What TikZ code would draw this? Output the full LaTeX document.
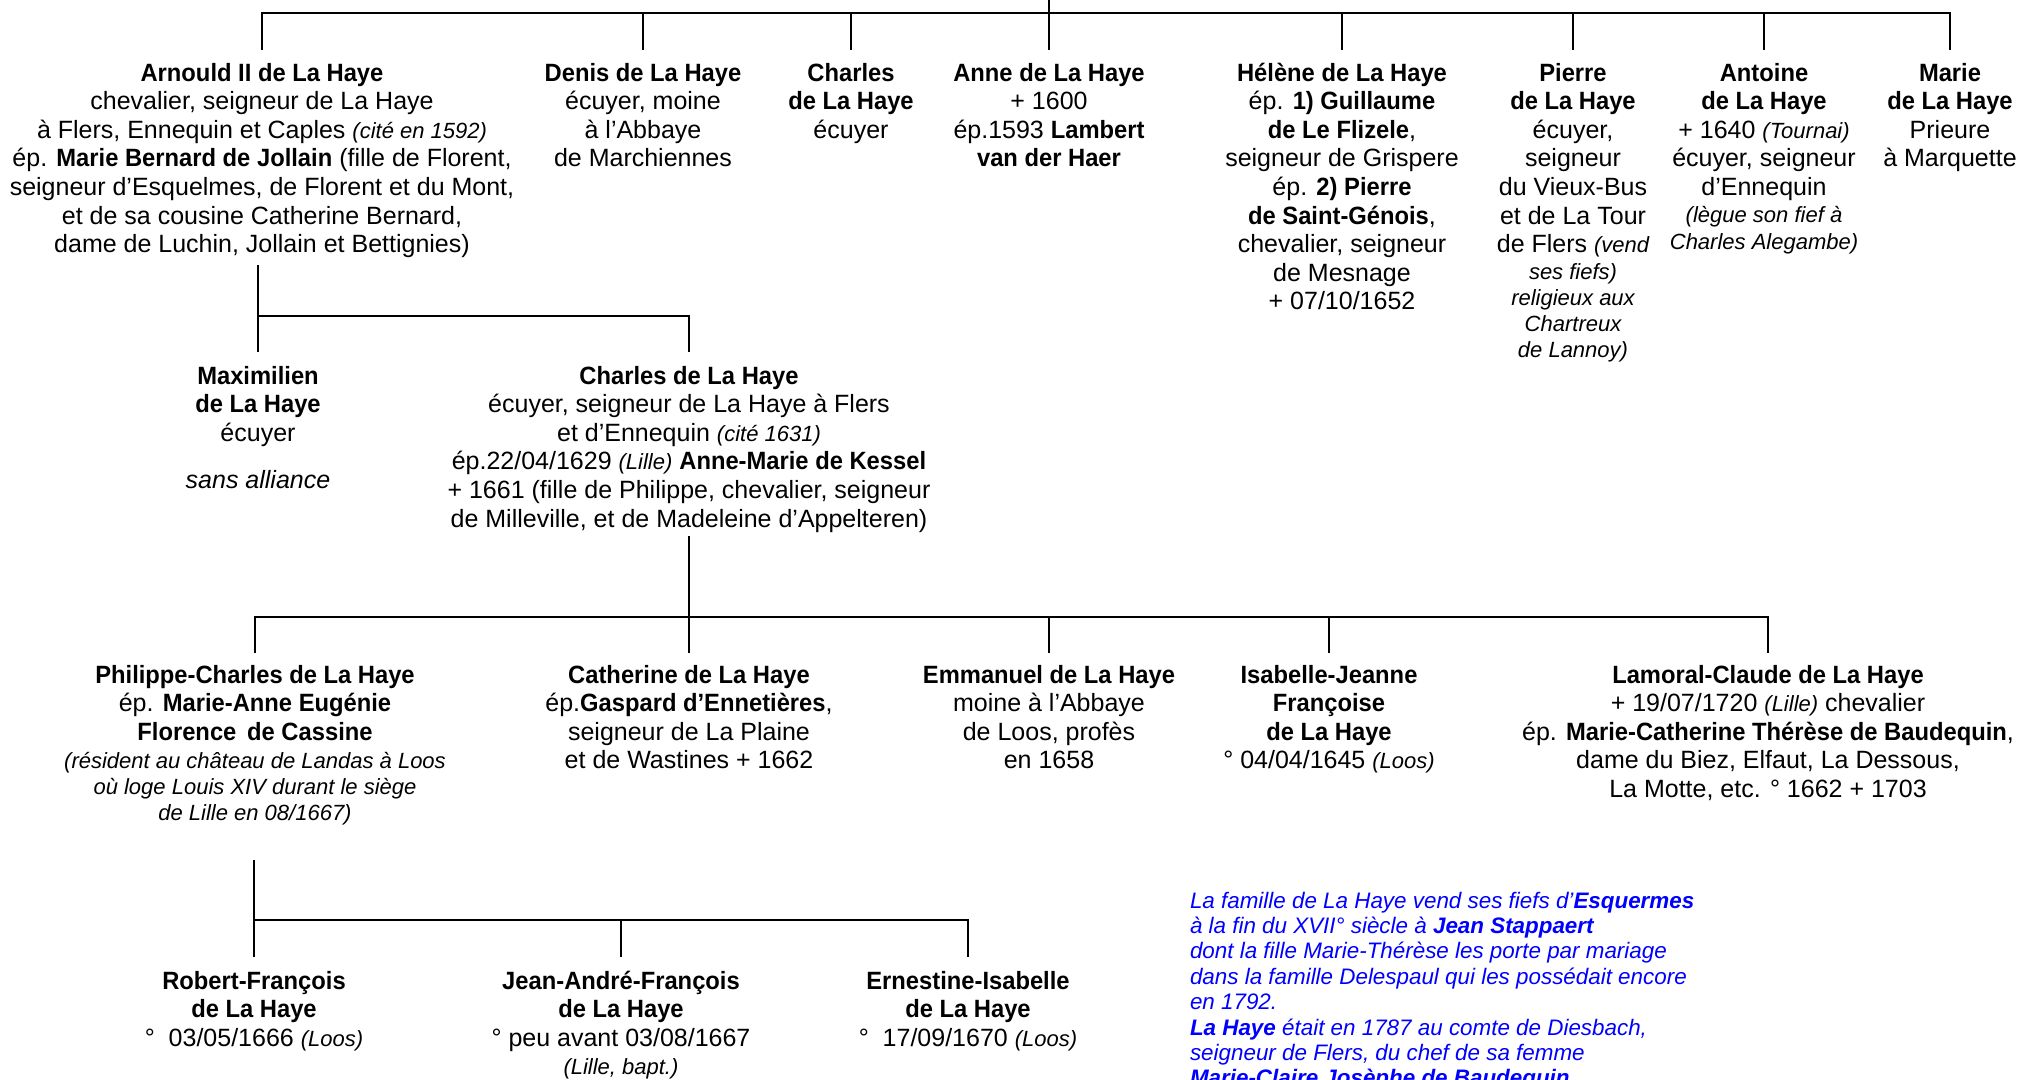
\documentclass[tikz,border=0pt]{standalone}
\usepackage{fontspec}
\setmainfont{Liberation Sans}[BoldFeatures={FakeStretch=0.95}]
\definecolor{noteblue}{RGB}{0,0,255}
\newcommand\firstln{\rule{0pt}{21.5pt}}
\newcommand\notefirst{\rule{0pt}{19pt}}
\newcommand\smit[1]{{\fontsize{22}{26}\selectfont\itshape #1}}
\begin{document}
\begin{tikzpicture}[x=1pt,y=-1pt,line width=2pt,
  person/.style={anchor=north,align=center,inner sep=0pt,outer sep=0pt,
    font=\fontsize{25}{28.6}\selectfont},
  note/.style={anchor=north west,align=left,inner sep=0pt,outer sep=0pt,
    text=noteblue,font=\fontsize{22.4}{25.4}\selectfont\itshape}]
\useasboundingbox (0,0) rectangle (2018,1079);
\clip (0,0) rectangle (2018,1079);

% ---------- generation 1 ----------
\node[person] (a1) at (262,59.5) {\firstln\textbf{Arnould II de La Haye}\\
  chevalier, seigneur de La Haye\\
  à Flers, Ennequin et Caples \smit{(cité en 1592)}\\
  ép. \textbf{Marie Bernard de Jollain} (fille de Florent,\\
  seigneur d’Esquelmes, de Florent et du Mont,\\
  et de sa cousine Catherine Bernard,\\
  dame de Luchin, Jollain et Bettignies)};
\node[person] (a2) at (643,59.5) {\firstln\textbf{Denis de La Haye}\\
  écuyer, moine\\ à l’Abbaye\\ de Marchiennes};
\node[person] (a3) at (851,59.5) {\firstln\textbf{Charles}\\ \textbf{de La Haye}\\ écuyer};
\node[person] (a4) at (1049,59.5) {\firstln\textbf{Anne de La Haye}\\ + 1600\\
  ép.1593 \textbf{Lambert}\\ \textbf{van der Haer}};
\node[person] (a5) at (1342,59.5) {\firstln\textbf{Hélène de La Haye}\\
  ép. \textbf{1) Guillaume}\\ \textbf{de Le Flizele},\\ seigneur de Grispere\\
  ép. \textbf{2) Pierre}\\ \textbf{de Saint-Génois},\\ chevalier, seigneur\\
  de Mesnage\\ + 07/10/1652};
\node[person] (a6) at (1573,59.5) {\firstln\textbf{Pierre}\\ \textbf{de La Haye}\\
  écuyer,\\ seigneur\\ du Vieux-Bus\\ et de La Tour\\ de Flers \smit{(vend}\\[-2pt]
  \smit{ses fiefs)}\\[-2.6pt] \smit{religieux aux}\\[-2.6pt] \smit{Chartreux}\\[-2.6pt]
  \smit{de Lannoy)}};
\node[person] (a7) at (1764,59.5) {\firstln\textbf{Antoine}\\ \textbf{de La Haye}\\
  + 1640 \smit{(Tournai)}\\ écuyer, seigneur\\ d’Ennequin\\[-1.6pt]
  \smit{(lègue son fief à}\\[-1.6pt] \smit{Charles Alegambe)}};
\node[person] (a8) at (1950,59.5) {\firstln\textbf{Marie}\\ \textbf{de La Haye}\\
  Prieure\\ à Marquette};

\coordinate (root) at (1049,-5);
\coordinate (bar1) at (0,13);
\draw (root) -- (root |- bar1);
\draw ([yshift=10pt]a1.north) -- (a1.north |- bar1) -- (a8.north |- bar1)
  -- ([yshift=10pt]a8.north);
\foreach \n in {a2,a3,a4,a5,a6,a7}
  \draw (\n.north |- bar1) -- ([yshift=10pt]\n.north);

% ---------- generation 2 ----------
\node[person] (b1) at (258,362.5) {\firstln\textbf{Maximilien}\\ \textbf{de La Haye}\\
  écuyer\\[18.4pt] \textit{sans alliance}};
\node[person] (b2) at (689,362.5) {\firstln\textbf{Charles de La Haye}\\
  écuyer, seigneur de La Haye à Flers\\
  et d’Ennequin \smit{(cité 1631)}\\
  ép.22/04/1629 \smit{(Lille)} \textbf{Anne-Marie de Kessel}\\
  + 1661 (fille de Philippe, chevalier, seigneur\\
  de Milleville, et de Madeleine d’Appelteren)};

\coordinate (bar2) at (0,316);
\draw (a1.south -| b1.north) ++(0,7.7) -- (b1.north |- bar2);
\draw ([yshift=10.5pt]b1.north) -- (b1.north |- bar2) -- (b2.north |- bar2)
  -- ([yshift=10.5pt]b2.north);

% ---------- generation 3 ----------
\node[person] (c1) at (255,661.5) {\firstln\textbf{Philippe-Charles de La Haye}\\
  ép. \textbf{Marie-Anne Eugénie}\\ \textbf{Florence\, de Cassine}\\
  \smit{(résident au château de Landas à Loos}\\[-2.6pt]
  \smit{où loge Louis XIV durant le siège}\\[-2.6pt]
  \smit{de Lille en 08/1667)}};
\node[person] (c2) at (689,661.5) {\firstln\textbf{Catherine de La Haye}\\
  ép.\textbf{Gaspard d’Ennetières},\\ seigneur de La Plaine\\ et de Wastines + 1662};
\node[person] (c3) at (1049,661.5) {\firstln\textbf{Emmanuel de La Haye}\\
  moine à l’Abbaye\\ de Loos, profès\\ en 1658};
\node[person] (c4) at (1329,661.5) {\firstln\textbf{Isabelle-Jeanne}\\
  \textbf{Françoise}\\ \textbf{de La Haye}\\ ° 04/04/1645 \smit{(Loos)}};
\node[person] (c5) at (1768,661.5) {\firstln\textbf{Lamoral-Claude de La Haye}\\
  + 19/07/1720 \smit{(Lille)} chevalier\\
  ép. \textbf{Marie-Catherine Thérèse de Baudequin},\\
  dame du Biez, Elfaut, La Dessous,\\ La Motte, etc. ° 1662 + 1703};

\coordinate (bar3) at (0,617);
\draw (b2.south) ++(0,4) -- ([yshift=8.5pt]c2.north);
\draw ([yshift=8.5pt]c1.north) -- (c1.north |- bar3) -- (c5.north |- bar3)
  -- ([yshift=8.5pt]c5.north);
\foreach \n in {c3,c4}
  \draw (\n.north |- bar3) -- ([yshift=8.5pt]\n.north);

% ---------- generation 4 ----------
\node[person] (d1) at (254,967.5) {\firstln\textbf{Robert-François}\\
  \textbf{de La Haye}\\ °\ \ 03/05/1666 \smit{(Loos)}};
\node[person] (d2) at (621,967.5) {\firstln\textbf{Jean-André-François}\\
  \textbf{de La Haye}\\ ° peu avant 03/08/1667\\ \smit{(Lille, bapt.)}};
\node[person] (d3) at (968,967.5) {\firstln\textbf{Ernestine-Isabelle}\\
  \textbf{de La Haye}\\ °\ \ 17/09/1670 \smit{(Loos)}};

\coordinate (bar4) at (0,920);
\draw (c1.south -| d1.north) ++(0,35) -- (d1.north |- bar4);
\draw ([yshift=10.5pt]d1.north) -- (d1.north |- bar4) -- (d3.north |- bar4)
  -- ([yshift=10.5pt]d3.north);
\draw (d2.north |- bar4) -- ([yshift=10.5pt]d2.north);

% ---------- note ----------
\node[note] (note) at (1190,889) {\notefirst La famille de La Haye vend ses fiefs d’\textbf{Esquermes}\\
  à la fin du XVII° siècle à \textbf{Jean Stappaert}\\
  dont la fille Marie-Thérèse les porte par mariage\\
  dans la famille Delespaul qui les possédait encore\\
  en 1792.\\
  \textbf{La Haye} était en 1787 au comte de Diesbach,\\
  seigneur de Flers, du chef de sa femme\\
  \textbf{Marie-Claire Josèphe de Baudequin}};
\end{tikzpicture}
\end{document}
